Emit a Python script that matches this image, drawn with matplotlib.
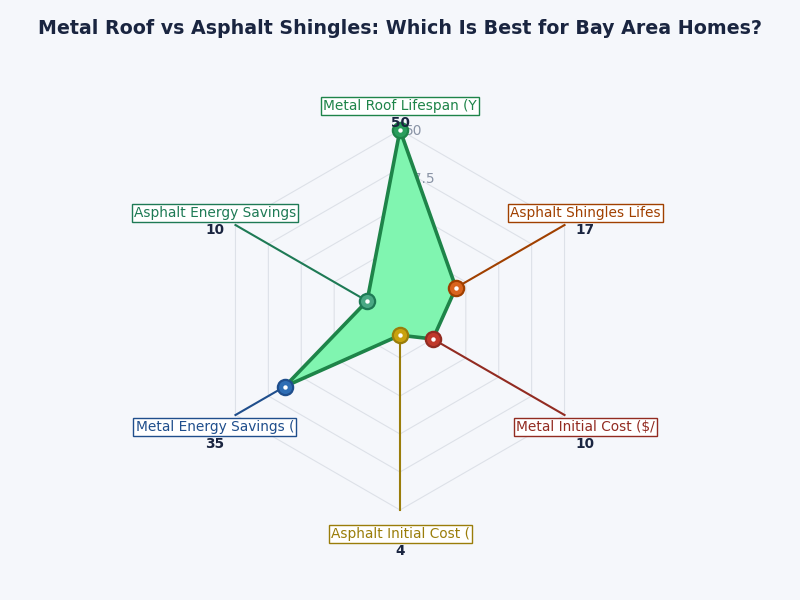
import numpy as np
import matplotlib
matplotlib.use("Agg")
import matplotlib.pyplot as plt

categories = ["Metal Roof Lifespan (Y", "Asphalt Shingles Lifes", "Metal Initial Cost ($/",
              "Asphalt Initial Cost (", "Metal Energy Savings (", "Asphalt Energy Savings"]
values = [50, 17, 10, 4, 35, 10]
grid_levels = [10, 20, 30, 40, 50]
tick_values = [12.5, 25, 37.5, 50]
tick_labels = ["12.5", "25", "37.5", "50"]
r_max = 50

marker_fill = ["#2a9d5c", "#d9641e", "#c0392b", "#c9a20e", "#2e6db4", "#4aa884"]
marker_edge = ["#1e8449", "#a04000", "#922b21", "#9a7d0a", "#1f4e8c", "#1e7a55"]
label_color = ["#1e8449", "#a04000", "#922b21", "#9a7d0a", "#1f4e8c", "#1e7a55"]

bg = "#f5f7fb"
dark = "#1a2540"

fig = plt.figure(figsize=(8, 6), dpi=100, facecolor=bg)
ax = fig.add_axes([0.2625, 0.15, 0.475, 0.6333], projection="polar")
ax.set_facecolor("none")
ax.set_theta_zero_location("N")
ax.set_theta_direction(-1)
ax.set_ylim(0, r_max)
ax.grid(False)
ax.spines["polar"].set_visible(False)
ax.set_xticks([])
ax.set_yticks([])

n = len(categories)
theta = np.arange(n) * 2 * np.pi / n
theta_c = np.append(theta, theta[0])

# hexagonal grid rings
for lv in grid_levels:
    ax.plot(theta_c, [lv] * (n + 1), color="#dde1e8", lw=0.8, zorder=1)

# radial tick labels (beneath fill)
for tv, tl in zip(tick_values, tick_labels):
    ax.annotate(tl, xy=(0, tv), xytext=(3.5, -1), textcoords="offset points",
                ha="left", va="center", fontsize=10, color="#8a94a6", zorder=2,
                annotation_clip=False)

# leader lines
for t, v, c in zip(theta, values, label_color):
    ax.plot([t, t], [v, r_max], color=c, lw=1.5, zorder=3, clip_on=False)

vals_c = values + [values[0]]
ax.fill(theta_c, vals_c, color="#80f5b0", zorder=4)
ax.plot(theta_c, vals_c, color="#1e8449", lw=2.6, zorder=5)

for t, v, fc, ec in zip(theta, values, marker_fill, marker_edge):
    ax.plot([t], [v], marker="o", ms=11, mfc=fc, mec=ec, mew=1.6, zorder=6, clip_on=False)
    ax.plot([t], [v], marker="o", ms=3.2, mfc="white", mec="white", mew=0, zorder=7, clip_on=False)

label_r = 56.3
for t, cat, v, c in zip(theta, categories, values, label_color):
    ax.text(t, label_r, cat, ha="center", va="center", fontsize=9.9, color=c,
            parse_math=False, zorder=8, clip_on=False,
            bbox=dict(boxstyle="square,pad=0.15", fc="white", ec=c, lw=1.0))
    ax.annotate(str(v), xy=(t, label_r), xytext=(0, -12.5), textcoords="offset points",
                ha="center", va="center", fontsize=9.8, fontweight="bold", color=dark,
                zorder=8, annotation_clip=False)

fig.text(0.5, 0.953, "Metal Roof vs Asphalt Shingles: Which Is Best for Bay Area Homes?",
         ha="center", va="center", fontsize=13.7, fontweight="bold", color=dark)

fig.savefig("out.png", dpi=100, facecolor=bg)
